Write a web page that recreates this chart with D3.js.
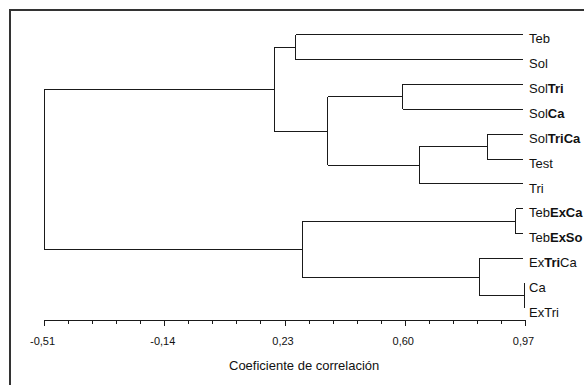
<!DOCTYPE html>
<html>
<head>
<meta charset="utf-8">
<script src="https://cdn.jsdelivr.net/npm/d3@7"></script>
<style>
  body { margin: 0; background: #fff; }
  text { font-family: "Liberation Sans", Arial, sans-serif; fill: #111; }
</style>
</head>
<body>
<div id="chart"></div>
<script>
// leaf names, top to bottom; bold parts marked with [ ]
var leaves = ["Teb", "Sol", "Sol[Tri]", "Sol[Ca]", "Sol[TriCa]", "Test", "Tri",
              "Teb[ExCa]", "Teb[ExSo]", "Ex[Tri]Ca", "Ca", "ExTri"];

// hclust style merges: negative = leaf (1-based), positive = earlier merge step
var mergeLeft   = [-11, -8, -5, -10, 3, -3, 6, 2, -1, 9, 10];
var mergeRight  = [-12, -9, -6, 1, -7, -4, 5, 4, -2, 7, 8];
var mergeHeight = [0.968, 0.942, 0.854, 0.829, 0.645, 0.594, 0.363, 0.285, 0.265, 0.199, -0.51];

var leafEnd = 0.965;
var majorTicks = [-0.51, -0.14, 0.23, 0.60, 0.97];
var axisTitle = "Coeficiente de correlación";

var width = 584, height = 385;
var svg = d3.select("#chart").append("svg")
  .attr("width", width)
  .attr("height", height);

// frame (runs off right and bottom edge)
svg.append("rect")
  .attr("x", 10).attr("y", 10)
  .attr("width", 700).attr("height", 500)
  .attr("fill", "none")
  .attr("stroke", "#333")
  .attr("stroke-width", 2);

var x = d3.scaleLinear().domain([-0.51, 0.97]).range([44, 525]);
var y = d3.scalePoint().domain(d3.range(leaves.length)).range([34.7, 308.3]);

// build tree from merges
function build(id) {
  if (id < 0) return { leaf: -id - 1, h: leafEnd };
  var k = id - 1;
  return { h: mergeHeight[k], children: [build(mergeLeft[k]), build(mergeRight[k])] };
}
var root = d3.hierarchy(build(mergeLeft.length));
root.eachAfter(function (d) {
  d.py = d.children ? (d.children[0].py + d.children[1].py) / 2 : y(d.data.leaf);
  d.px = x(d.data.h);
});

var g = svg.append("g")
  .attr("fill", "none")
  .attr("stroke", "#1a1a1a")
  .attr("stroke-width", 1)
  .attr("shape-rendering", "crispEdges");

root.descendants().forEach(function (d) {
  if (!d.children) return;
  var a = d.children[0], b = d.children[1];
  g.append("line").attr("x1", d.px).attr("x2", d.px).attr("y1", a.py).attr("y2", b.py);
  [a, b].forEach(function (c) {
    var cx = Math.max(c.px, d.px);
    g.append("line").attr("x1", d.px).attr("x2", cx).attr("y1", c.py).attr("y2", c.py);
  });
});
// stub into the root
g.append("line").attr("x1", root.px).attr("x2", root.px).attr("y1", root.py).attr("y2", root.py);

// leaf labels with bold parts
root.leaves().forEach(function (d) {
  var t = svg.append("text")
    .attr("x", 529)
    .attr("y", d.py + 8.6)
    .attr("font-size", 13);
  leaves[d.data.leaf].split(/(\[[^\]]+\])/).forEach(function (part) {
    if (!part) return;
    var bold = part[0] === "[";
    t.append("tspan")
      .attr("font-weight", bold ? "bold" : "normal")
      .text(bold ? part.slice(1, -1) : part);
  });
});

// axis
var locale = d3.formatLocale({ decimal: ",", thousands: ".", grouping: [3], currency: ["", ""], minus: "-" });
var fmt = locale.format(".2f");
var axisY = 320;

var minor = d3.range(21).map(function (i) { return -0.51 + i * 0.074; });
svg.append("g")
  .attr("transform", "translate(0," + axisY + ")")
  .call(d3.axisBottom(x).tickValues(minor).tickSize(4).tickSizeOuter(0).tickFormat(""))
  .call(function (s) { s.selectAll("path,line").attr("stroke", "#1a1a1a").attr("shape-rendering", "crispEdges"); });

var ax = svg.append("g")
  .attr("transform", "translate(0," + axisY + ")")
  .call(d3.axisBottom(x).tickValues(majorTicks).tickSize(6).tickSizeOuter(0).tickPadding(11).tickFormat(fmt));
ax.select(".domain").remove();
ax.selectAll("line").attr("stroke", "#1a1a1a").attr("shape-rendering", "crispEdges");
ax.selectAll("text")
  .attr("font-family", "Liberation Sans, Arial, sans-serif")
  .attr("font-size", 11)
  .attr("fill", "#111")
  .attr("dx", -2);

svg.append("text")
  .attr("x", 229)
  .attr("y", 370)
  .attr("font-size", 13)
  .text(axisTitle);
</script>
</body>
</html>
